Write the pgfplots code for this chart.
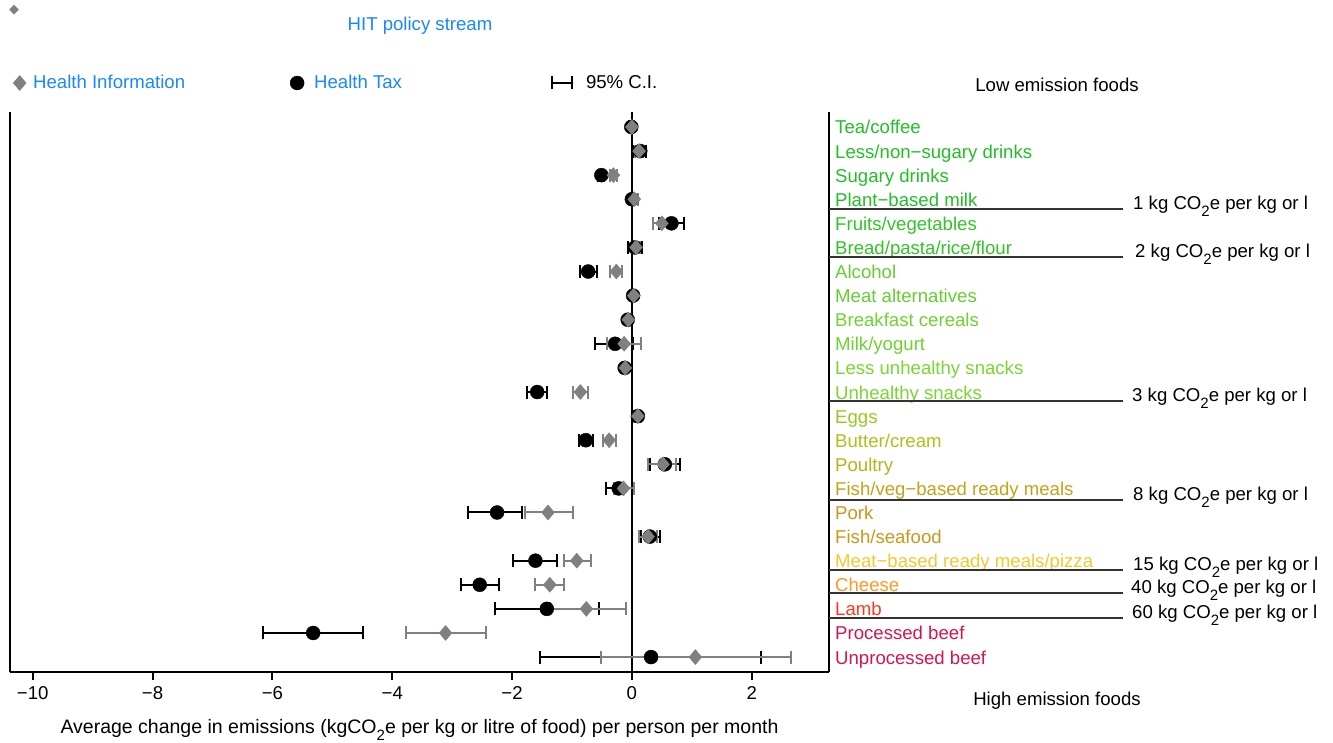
\documentclass[border=0pt]{standalone}
\usepackage{fontspec}
\setmainfont{Liberation Sans}
\newfontfamily\dejavu{DejaVu Sans}
\usepackage{pgfplots}
\usepackage{pgfplotstable}
\pgfplotsset{compat=1.18}

\definecolor{hitblue}{RGB}{25,135,255}
\definecolor{cA}{RGB}{34,190,40}
\definecolor{cB}{RGB}{50,195,40}
\definecolor{cC}{RGB}{100,205,50}
\definecolor{cD}{RGB}{110,210,50}
\definecolor{cE}{RGB}{120,214,50}
\definecolor{cF}{RGB}{150,200,30}
\definecolor{cG}{RGB}{175,190,25}
\definecolor{cH}{RGB}{185,175,25}
\definecolor{cI}{RGB}{190,165,25}
\definecolor{cJ}{RGB}{200,152,28}
\definecolor{cK}{RGB}{245,200,50}
\definecolor{cL}{RGB}{255,150,40}
\definecolor{cM}{RGB}{255,55,30}
\definecolor{cN}{RGB}{215,20,80}
\definecolor{ptgray}{RGB}{128,128,128}

\newcommand\sub[1]{\raisebox{-7pt}{\fontsize{15}{15}\selectfont #1}}

\pgfplotstableread{
row HT HTlo HThi HI HIlo HIhi
0 -0.01 -0.04 0.02 0.00 -0.03 0.03
1 0.14 0.04 0.24 0.12 0.06 0.19
2 -0.51 -0.56 -0.46 -0.31 -0.37 -0.25
3 0.00 -0.03 0.03 0.04 -0.02 0.10
4 0.66 0.45 0.87 0.50 0.35 0.65
5 0.05 -0.07 0.17 0.07 0.00 0.14
6 -0.73 -0.87 -0.59 -0.26 -0.36 -0.16
7 0.02 -0.01 0.05 0.03 0.00 0.06
8 -0.07 -0.10 -0.04 -0.06 -0.10 -0.02
9 -0.28 -0.61 0.02 -0.13 -0.42 0.16
10 -0.12 -0.15 -0.09 -0.11 -0.14 -0.08
11 -1.58 -1.75 -1.41 -0.86 -0.98 -0.74
12 0.10 0.05 0.15 0.10 0.04 0.16
13 -0.77 -0.88 -0.65 -0.38 -0.48 -0.27
14 0.55 0.30 0.80 0.52 0.27 0.73
15 -0.22 -0.43 0.03 -0.14 -0.30 0.04
16 -2.25 -2.74 -1.84 -1.40 -1.79 -0.98
17 0.30 0.15 0.47 0.27 0.12 0.42
18 -1.61 -1.98 -1.25 -0.92 -1.14 -0.69
19 -2.54 -2.85 -2.21 -1.37 -1.61 -1.14
20 -1.42 -2.29 -0.55 -0.76 -1.37 -0.10
21 -5.32 -6.16 -4.49 -3.11 -3.77 -2.44
22 0.32 -1.53 2.16 1.06 -0.52 2.65
}\datatable

\tikzset{catlab/.style={anchor=base west, inner sep=0pt, xshift=6pt, yshift=-7pt}}

\begin{document}
\fontsize{18.6}{22}\selectfont
\begin{tikzpicture}
\useasboundingbox (0,0) rectangle (1333pt,-742pt);
\begin{axis}[
  at={(10pt,-672pt)}, anchor=south west,
  scale only axis, width=819pt, height=560pt,
  xmin=-10.38, xmax=3.29, ymin=-0.62, ymax=22.62,
  axis x line*=bottom, axis y line*=left,
  axis line style={line width=2.4pt, black},
  clip=false,
  xtick={-10,-8,-6,-4,-2,0,2},
  xticklabels={−10,−8,−6,−4,−2,0,2},
  tick align=outside, major tick length=8pt,
  xtick style={line width=2pt, black},
  ytick=\empty,
  xticklabel style={font=\fontsize{18.6}{22}\selectfont, anchor=base, yshift=-19pt},
  xlabel={Average change in emissions (kgCO\sub{2}e per kg or litre of food) per person per month},
  xlabel style={font=\fontsize{19.5}{22}\selectfont, at={(axis description cs:0.5,0)}, anchor=base, yshift=-61pt},
  legend columns=3,
  legend style={at={(axis description cs:0.0037,1.0518)}, anchor=west, draw=none, fill=none,
    font=\fontsize{18.6}{22}\selectfont, text=hitblue, inner sep=0pt,
    /tikz/column 1/.style={column sep=5pt},
    /tikz/column 2/.style={column sep=103pt},
    /tikz/column 3/.style={column sep=8pt},
    /tikz/column 4/.style={column sep=147pt},
    /tikz/column 5/.style={column sep=11pt}},
]
\addlegendimage{legend image code/.code={\draw[ptgray, fill=ptgray] plot[mark=diamond*, mark size=7.5pt, mark options={xscale=1.15}] coordinates {(0pt,0pt)};}}
\addlegendimage{legend image code/.code={\draw[black, fill=black] plot[mark=*, mark size=7pt] coordinates {(0pt,0pt)};}}
\addlegendimage{legend image code/.code={\draw[line width=2pt, black] (0pt,0pt) -- (20pt,0pt); \draw[line width=2pt, black] (0pt,-6.5pt) -- (0pt,6.5pt); \draw[line width=2pt, black] (20pt,-6.5pt) -- (20pt,6.5pt);}}
\legend{Health Information, Health Tax, \textcolor{black}{95\% C.I.}}

\draw[line width=2.4pt, black] (axis cs:0,-0.62) -- (axis cs:0,22.62);
\draw[line width=2.4pt, black] (rel axis cs:1,0) -- (rel axis cs:1,1);

% Health Tax
\addplot[forget plot, only marks, mark=*, mark size=7pt, black, mark options={fill=black, draw=black},
  error bars/.cd, x dir=both, x explicit, error mark=|,
  error bar style={line width=2pt, black},
  error mark options={line width=2pt, black, mark size=6.5pt}]
  table[x=HT, y expr=22-\thisrow{row},
        x error plus expr=\thisrow{HThi}-\thisrow{HT},
        x error minus expr=\thisrow{HT}-\thisrow{HTlo}] {\datatable};
% Health Information
\addplot[forget plot, only marks, mark=diamond*, mark size=7.5pt, ptgray, mark options={fill=ptgray, draw=ptgray, xscale=1.15},
  error bars/.cd, x dir=both, x explicit, error mark=|,
  error bar style={line width=2pt, ptgray},
  error mark options={line width=2pt, ptgray, mark size=6.5pt}]
  table[x=HI, y expr=22-\thisrow{row},
        x error plus expr=\thisrow{HIhi}-\thisrow{HI},
        x error minus expr=\thisrow{HI}-\thisrow{HIlo}] {\datatable};

% category labels
\node[catlab, text=cA] at (axis cs:3.29,22) {Tea/coffee};
\node[catlab, text=cA] at (axis cs:3.29,21) {Less/non−sugary drinks};
\node[catlab, text=cA] at (axis cs:3.29,20) {Sugary drinks};
\node[catlab, text=cA] at (axis cs:3.29,19) {Plant−based milk};
\node[catlab, text=cB] at (axis cs:3.29,18) {Fruits/vegetables};
\node[catlab, text=cB] at (axis cs:3.29,17) {Bread/pasta/rice/flour};
\node[catlab, text=cC] at (axis cs:3.29,16) {Alcohol};
\node[catlab, text=cC] at (axis cs:3.29,15) {Meat alternatives};
\node[catlab, text=cD] at (axis cs:3.29,14) {Breakfast cereals};
\node[catlab, text=cD] at (axis cs:3.29,13) {Milk/yogurt};
\node[catlab, text=cE] at (axis cs:3.29,12) {Less unhealthy snacks};
\node[catlab, text=cE] at (axis cs:3.29,11) {Unhealthy snacks};
\node[catlab, text=cF] at (axis cs:3.29,10) {Eggs};
\node[catlab, text=cG] at (axis cs:3.29,9) {Butter/cream};
\node[catlab, text=cH] at (axis cs:3.29,8) {Poultry};
\node[catlab, text=cI] at (axis cs:3.29,7) {Fish/veg−based ready meals};
\node[catlab, text=cJ] at (axis cs:3.29,6) {Pork};
\node[catlab, text=cJ] at (axis cs:3.29,5) {Fish/seafood};
\node[catlab, text=cK] at (axis cs:3.29,4) {Meat−based ready meals/pizza};
\node[catlab, text=cL] at (axis cs:3.29,3) {Cheese};
\node[catlab, text=cM] at (axis cs:3.29,2) {Lamb};
\node[catlab, text=cN] at (axis cs:3.29,1) {Processed beef};
\node[catlab, text=cN] at (axis cs:3.29,0) {Unprocessed beef};
\end{axis}

% top-left key and title
\node[text=ptgray, inner sep=0pt] at (14pt,-10pt) {\dejavu\fontsize{13}{13}\selectfont ◆};
\node[text=hitblue, inner sep=0pt] at (420pt,-26pt) {HIT policy stream};

% right side annotations
\node[inner sep=0pt] at (1057pt,-85pt) {Low emission foods};
\node[inner sep=0pt] at (1057pt,-701pt) {High emission foods};

\foreach \yy/\xx/\lab in {209/1133/1, 257/1135/2, 401/1132/3, 500/1133/8, 570/1133/15, 593/1131/40, 618/1132/60}{
  \draw[line width=2pt, black!80] (829pt,-\yy pt) -- (1123pt,-\yy pt);
  \node[anchor=base west, inner sep=0pt] at (\xx pt,-\yy pt) {\lab\ kg CO\sub{2}e per kg or l};
}
\end{tikzpicture}
\end{document}
